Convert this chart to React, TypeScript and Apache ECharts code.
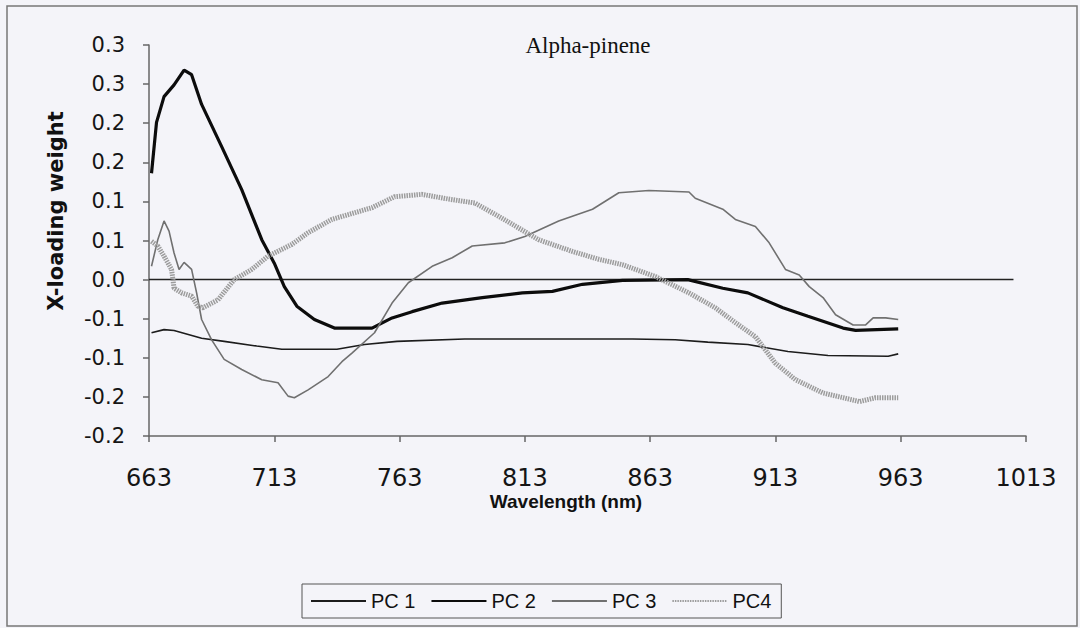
import React, { useEffect, useRef } from "react";
import * as echarts from "echarts";

const seriesNames = ["PC 1", "PC 2", "PC 3", "PC4"];

const xTicks = { min: 663, max: 1013, step: 50 };
const yTickLabels = ["-0.2", "-0.2", "-0.1", "-0.1", "0.0", "0.1", "0.1", "0.2", "0.2", "0.3", "0.3"];

const pc1Wavelength = [664, 669, 673, 684, 693, 706, 716, 738, 749, 762, 789, 856, 873, 886, 902, 918, 934, 958, 962];
const pc1Values = [-0.068, -0.064, -0.065, -0.075, -0.079, -0.085, -0.089, -0.089, -0.083, -0.079, -0.076, -0.076, -0.077, -0.08, -0.083, -0.092, -0.097, -0.098, -0.095];

const pc2Wavelength = [664, 666, 669, 673, 677, 680, 684, 692, 700, 708, 713, 717, 722, 729, 737, 752, 760, 768, 780, 796, 812, 824, 836, 852, 878, 892, 902, 916, 926, 940, 945, 962];
const pc2Values = [0.136, 0.201, 0.234, 0.249, 0.268, 0.262, 0.224, 0.17, 0.115, 0.051, 0.021, -0.009, -0.034, -0.051, -0.062, -0.062, -0.049, -0.041, -0.03, -0.023, -0.017, -0.015, -0.006, -0.001, 0.0, -0.011, -0.017, -0.036, -0.047, -0.062, -0.065, -0.063];

const pc3Wavelength = [664, 666.5, 669, 671, 673, 675, 677, 680, 682, 684, 688, 693, 700, 708, 714.5, 718.5, 721, 726.5, 734.5, 740, 744, 753, 760, 766.5, 776, 784, 792, 805, 813, 826.5, 840, 850.5, 862.5, 878.5, 881, 892, 897, 905, 910.5, 917, 922.5, 926.5, 932, 937, 944, 949, 952, 957, 962];
const pc3Values = [0.017, 0.051, 0.075, 0.062, 0.034, 0.013, 0.022, 0.013, -0.017, -0.051, -0.077, -0.102, -0.115, -0.128, -0.132, -0.149, -0.151, -0.141, -0.124, -0.105, -0.094, -0.068, -0.03, -0.004, 0.017, 0.028, 0.043, 0.047, 0.055, 0.075, 0.09, 0.111, 0.114, 0.112, 0.104, 0.09, 0.077, 0.068, 0.047, 0.013, 0.006, -0.009, -0.023, -0.045, -0.058, -0.058, -0.049, -0.049, -0.051];

const pc4Wavelength = [664, 666.5, 669, 672, 673, 676, 680, 682.5, 684.5, 690.5, 697, 704, 710.5, 720, 726.5, 736, 752, 761, 772, 782.5, 793, 802.5, 810.5, 818.5, 832, 842.5, 852, 865, 878.5, 889, 897, 905, 913, 921, 932, 940, 946.5, 953, 962];
const pc4Values = [0.049, 0.043, 0.03, 0.013, -0.011, -0.017, -0.021, -0.034, -0.036, -0.026, 0.0, 0.013, 0.03, 0.045, 0.06, 0.077, 0.092, 0.106, 0.109, 0.103, 0.098, 0.081, 0.066, 0.051, 0.036, 0.026, 0.019, 0.004, -0.017, -0.036, -0.055, -0.073, -0.107, -0.128, -0.145, -0.151, -0.156, -0.151, -0.151];

const zeroLineWavelength = [663, 1008];
const zeroLineValues = [0, 0];

const zip = (xs: number[], ys: number[]) => xs.map((x, i) => [x, ys[i]]);

export default function App() {
  const ref = useRef<HTMLDivElement>(null);

  useEffect(() => {
    if (!ref.current) return;
    const chart = echarts.init(ref.current, null, { renderer: "svg" });
    const axisColor = "#666";
    chart.setOption({
      animation: false,
      backgroundColor: "#f4f4f9",
      grid: { left: 149, top: 45, width: 877, height: 391, containLabel: false },
      xAxis: {
        type: "value",
        min: xTicks.min,
        max: xTicks.max,
        interval: xTicks.step,
        axisLine: { show: true, onZero: false, lineStyle: { color: axisColor, width: 1.5 } },
        axisTick: { show: true, length: 6, lineStyle: { color: axisColor, width: 1.5 } },
        splitLine: { show: false },
        axisLabel: {
          fontFamily: "DejaVu Sans",
          fontSize: 24,
          color: "#151515",
          margin: 30,
          formatter: (v: number) => String(Math.round(v)),
        },
      },
      yAxis: {
        type: "value",
        min: -0.2,
        max: 0.3,
        interval: 0.05,
        axisLine: { show: true, lineStyle: { color: axisColor, width: 1.5 } },
        axisTick: { show: true, length: 6, lineStyle: { color: axisColor, width: 1.5 } },
        splitLine: { show: false },
        axisLabel: {
          fontFamily: "DejaVu Sans",
          fontSize: 21,
          color: "#151515",
          margin: 24,
          formatter: (v: number) => yTickLabels[Math.round((v + 0.2) / 0.05)] ?? "",
        },
      },
      legend: {
        data: seriesNames,
        left: 302,
        top: 584,
        orient: "horizontal",
        borderColor: "#555",
        borderWidth: 1,
        padding: [7, 10, 7, 8],
        itemWidth: 55,
        itemHeight: 12,
        itemGap: 15,
        itemStyle: { color: "transparent", borderWidth: 0, opacity: 0 },
        textStyle: { fontFamily: "Liberation Sans", fontSize: 20, color: "#111" },
      },
      graphic: [
        {
          type: "rect",
          shape: { x: 7, y: 6, width: 1070, height: 620 },
          style: { fill: "none", stroke: "#777", lineWidth: 1.5 },
          silent: true,
        },
        {
          type: "text",
          x: 588,
          y: 45,
          style: {
            text: "Alpha-pinene",
            fontFamily: "Liberation Serif",
            fontSize: 23,
            fill: "#111",
            align: "center",
            verticalAlign: "middle",
          },
        },
        {
          type: "text",
          x: 56,
          y: 211,
          rotation: Math.PI / 2,
          style: {
            text: "X-loading weight",
            fontFamily: "DejaVu Sans",
            fontWeight: "bold",
            fontSize: 21,
            fill: "#111",
            align: "center",
            verticalAlign: "middle",
          },
        },
        {
          type: "text",
          x: 566,
          y: 501,
          style: {
            text: "Wavelength (nm)",
            fontFamily: "Liberation Sans",
            fontWeight: "bold",
            fontSize: 19,
            fill: "#111",
            align: "center",
            verticalAlign: "middle",
          },
        },
      ],
      series: [
        {
          name: "PC 1",
          type: "line",
          symbol: "none",
          data: zip(pc1Wavelength, pc1Values),
          lineStyle: { color: "#1c1c1c", width: 1.6 },
          itemStyle: { color: "#1c1c1c" },
        },
        {
          name: "PC 2",
          type: "line",
          symbol: "none",
          data: zip(pc2Wavelength, pc2Values),
          lineStyle: { color: "#0c0c0c", width: 3.2 },
          itemStyle: { color: "#0c0c0c" },
        },
        {
          name: "PC 3",
          type: "line",
          symbol: "none",
          data: zip(pc3Wavelength, pc3Values),
          lineStyle: { color: "#707070", width: 1.6 },
          itemStyle: { color: "#707070" },
        },
        {
          name: "PC4",
          type: "line",
          symbol: "none",
          data: zip(pc4Wavelength, pc4Values),
          lineStyle: { color: "#9c9c9c", width: 5, type: [1.5, 1] },
          itemStyle: { color: "#9c9c9c" },
        },
        {
          name: "zero",
          type: "line",
          symbol: "none",
          silent: true,
          data: zip(zeroLineWavelength, zeroLineValues),
          lineStyle: { color: "#222", width: 1.5 },
          itemStyle: { color: "#222" },
          z: 1,
        },
      ],
    });
    return () => chart.dispose();
  }, []);

  return (
    <div
      ref={ref}
      style={{ position: "absolute", left: 0, top: 0, width: 1080, height: 628, background: "#f4f4f9" }}
    />
  );
}
